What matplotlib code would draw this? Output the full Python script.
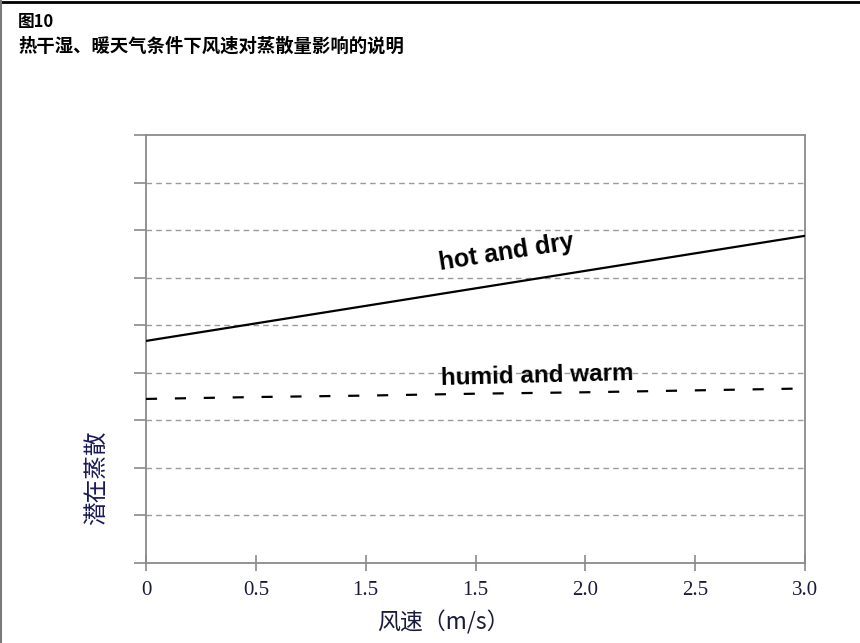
import matplotlib
matplotlib.use("Agg")
import matplotlib.pyplot as plt
from matplotlib.lines import Line2D

# Data
x_tick_pos = [0, 0.5, 1.0, 1.5, 2.0, 2.5, 3.0]
x_tick_labels = ["0", "0.5", "1.5", "1.5", "2.0", "2.5", "3.0"]
hot_dry_x = [0, 3.0]
hot_dry_y = [4.67, 6.88]
humid_x = [0, 0.5, 1.0, 1.5, 2.0, 2.5, 3.0]
humid_y = [3.45, 3.49, 3.52, 3.56, 3.59, 3.63, 3.67]
y_ticks = list(range(0, 10))

fig = plt.figure(figsize=(8.6, 6.43), dpi=100)
ax = fig.add_axes([146/860, 1-563/643, (805-146)/860, (563-135)/643])

ax.set_xlim(0, 3.0)
ax.set_ylim(0, 9)

for yv in y_ticks[1:-1]:
    ax.axhline(yv, color="#9a9a9a", lw=1.0, ls=(0, (4, 3)), zorder=1)

ax.plot(hot_dry_x, hot_dry_y, color="black", lw=1.6, zorder=3)
ax.plot(humid_x, humid_y, color="black", lw=1.6, ls=(0, (5, 8)), zorder=3)

for s in ax.spines.values():
    s.set_color("#8a8a8a")
    s.set_linewidth(1.3)

ax.set_yticks(y_ticks)
ax.set_yticklabels([])
ax.tick_params(axis="y", direction="out", length=9, width=1.2, color="#8a8a8a")
ax.set_xticks(x_tick_pos)
ax.set_xticklabels(x_tick_labels, family="Liberation Serif", fontsize=15, color="#1a1a3a")
ax.tick_params(axis="x", direction="inout", length=12, width=1.2, color="#8a8a8a", pad=7)

ax.text(1.64, 6.54, "hot and dry", rotation=9, fontsize=18, fontweight="bold",
        family="Liberation Sans", ha="center", va="center", rotation_mode="anchor")
ax.text(1.78, 3.93, "humid and warm", rotation=1.5, fontsize=17.5, fontweight="bold",
        family="Liberation Sans", ha="center", va="center", rotation_mode="anchor")

fig.text(443/860, 1-622/643, "风速（m/s）", family=["Noto Sans CJK SC", "DejaVu Sans"],
         fontsize=16.5, ha="center", va="center", color="#1a1a3a")
fig.text(97/860, 1-478/643, "潜在蒸散", family=["Noto Sans CJK SC", "DejaVu Sans"],
         fontsize=17, rotation=90, ha="center", va="center", color="#1a1a5a")

fig.text(18/860, 1-22/643, "图10", family=["Noto Sans CJK SC", "DejaVu Sans"],
         fontsize=12, fontweight="bold", ha="left", va="center")
fig.text(18/860, 1-46/643, "热干湿、暖天气条件下风速对蒸散量影响的说明",
         family=["Noto Sans CJK SC", "DejaVu Sans"],
         fontsize=13.2, fontweight="bold", ha="left", va="center")

fig.add_artist(Line2D([0, 1], [1-1.5/643, 1-1.5/643], transform=fig.transFigure,
                      color="black", lw=2.0))
fig.add_artist(Line2D([1/860, 1/860], [0, 1], transform=fig.transFigure,
                      color="#7a7a7a", lw=1.5))

fig.savefig("out.png", dpi=100)
